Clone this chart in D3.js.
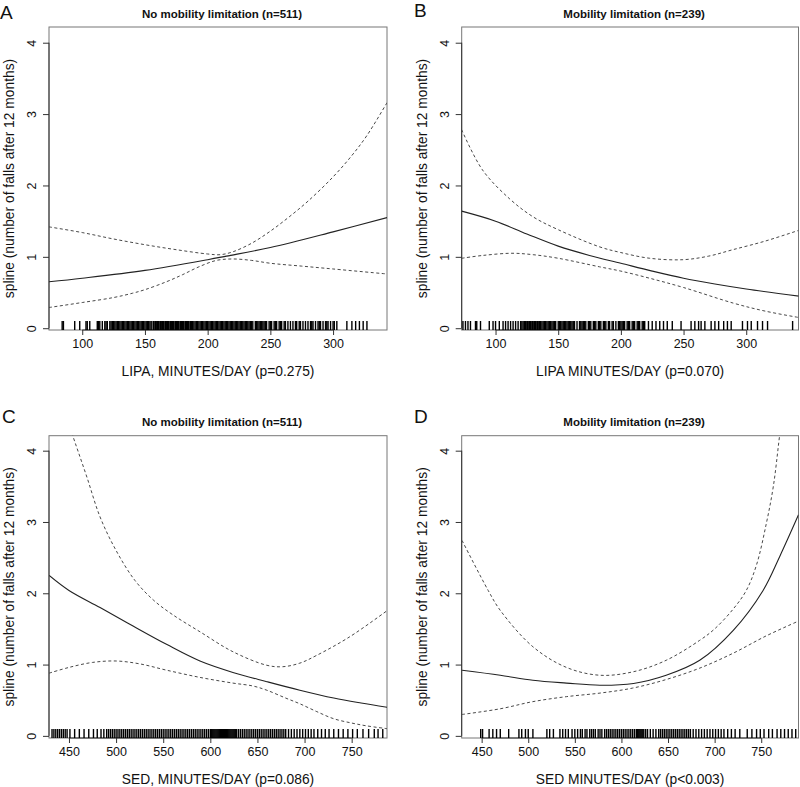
<!DOCTYPE html>
<html><head><meta charset="utf-8">
<script src="https://cdn.jsdelivr.net/npm/d3@7"></script>
<style>body{margin:0;background:#fff} text{font-family:"Liberation Sans",Arial,Helvetica,sans-serif;fill:#111}</style>
</head><body><svg id="c" width="800" height="787"></svg>
<script>
// ---------- data ----------
const yTicks = [0, 1, 2, 3, 4];
const lipaTicks = [100, 150, 200, 250, 300];
const sedTicks = [450, 500, 550, 600, 650, 700, 750];

// Panel A: LIPA, no mobility limitation
const aFitX = [73.5, 100, 150, 200, 215, 250, 300, 343];
const aFitY = [0.65, 0.70, 0.81, 0.96, 1.01, 1.13, 1.35, 1.55];
const aUpX = [73.5, 100, 125, 150, 175, 200, 210, 220, 235, 250, 265, 280, 300, 315, 327, 343];
const aUpY = [1.42, 1.34, 1.25, 1.17, 1.10, 1.04, 1.03, 1.07, 1.19, 1.36, 1.56, 1.78, 2.12, 2.42, 2.70, 3.16];
const aLoX = [73.5, 100, 125, 140, 150, 167, 180, 193, 207, 220, 235, 250, 275, 300, 343];
const aLoY = [0.29, 0.36, 0.43, 0.49, 0.54, 0.65, 0.75, 0.86, 0.95, 0.97, 0.95, 0.91, 0.87, 0.83, 0.76];
const rugA = [84, 85, 94, 98, 103, 104, 106, 112, 113, 114, 116, 118, 119, 120, 122, 123, 124, 125, 126, 127, 128, 129, 130, 131, 132, 133, 134, 135, 136, 137, 138, 139, 140, 141, 142, 143, 144, 145, 146, 147, 148, 149, 150, 151, 152, 153, 154, 155, 156.5, 157, 158, 158.5, 159, 160, 160.5, 161, 162, 162.5, 163, 164, 164.5, 165, 166, 166.5, 167, 168, 168.5, 169, 170, 170.5, 171, 172, 172.5, 173, 174, 174.5, 175, 176, 176.5, 177, 178, 178.5, 179, 180, 180.5, 181, 182, 182.5, 183, 184, 184.5, 185, 186, 186.5, 187, 188, 189, 190, 191, 192, 193, 194, 195, 196, 197, 198, 199, 200, 201, 202, 203, 204, 205, 206, 207, 208, 209, 210, 211, 212, 213, 214, 215, 216, 217, 218, 219, 220, 221, 222, 223, 224, 225, 226, 227, 228, 229, 230, 231, 232, 233, 234, 235, 236, 238, 239, 240, 241, 242, 243, 244, 245, 246, 247, 249, 250, 251, 253, 254, 255, 257, 258, 259, 261, 262, 264, 266, 268, 270, 271, 273, 274, 276, 278, 280, 282, 283, 284, 286, 288, 289, 290, 292, 294, 295, 296, 298, 300, 301, 303, 311, 315, 318, 321, 324, 327];

// Panel B: LIPA, mobility limitation
const bFitX = [73, 100, 125, 150, 175, 200, 225, 250, 275, 300, 342];
const bFitY = [1.64, 1.50, 1.32, 1.15, 1.02, 0.91, 0.80, 0.70, 0.62, 0.55, 0.45];
const bUpX = [73, 89.5, 111.4, 130, 150, 183, 200, 223, 249.5, 270, 289.3, 315, 341.7];
const bUpY = [2.78, 2.22, 1.81, 1.56, 1.38, 1.14, 1.06, 0.98, 0.96, 1.01, 1.10, 1.22, 1.37];
const bLoX = [73, 90, 113, 130, 150, 183, 200, 223, 250, 290, 315, 342];
const bLoY = [0.98, 1.02, 1.05, 1.03, 0.98, 0.86, 0.80, 0.70, 0.57, 0.35, 0.24, 0.15];
const rugB = [74, 76, 78, 80, 84, 85, 88, 95, 98, 100, 103, 106, 108, 110, 112, 114, 116, 118, 120, 121, 122, 123, 123.5, 124, 125, 125.5, 126, 127, 127.5, 128, 129, 129.5, 130, 131, 131.5, 132, 133, 133.5, 134, 135, 135.5, 136, 137, 138, 139, 140, 141, 142, 143, 144, 145, 146, 147, 148, 150, 151, 152, 153, 154, 155, 156, 157, 158, 159, 160, 161, 162, 163, 165, 167, 168, 169, 170, 171, 172, 174, 175, 176, 178, 179, 180, 182, 183, 184, 186, 187, 188, 190, 191, 193, 194, 196, 198, 199, 200, 201, 202, 203, 205, 206, 207, 209, 210, 211, 213, 214, 215, 217, 218, 219, 222, 225, 228, 231, 234, 237, 241, 248, 256, 259, 262, 264, 267, 272, 275, 278, 282, 285, 288, 297, 301, 304, 309, 313, 317, 337];

// Panel C: SED, no mobility limitation
const cFitX = [429, 450, 483, 518, 554, 589, 624, 660, 695, 731, 760, 788];
const cFitY = [2.25, 2.04, 1.80, 1.54, 1.28, 1.05, 0.89, 0.76, 0.64, 0.53, 0.46, 0.40];
const cUpX = [429, 454, 469, 483, 500, 520, 540, 560, 589, 624, 660, 677, 695, 713, 748, 788];
const cUpY = [5.2, 4.21, 3.63, 3.07, 2.60, 2.18, 1.90, 1.70, 1.46, 1.18, 0.99, 0.97, 1.02, 1.13, 1.39, 1.76];
const cLoX = [429, 450, 475, 500, 525, 554, 589, 624, 645, 660, 680, 695, 713, 731, 750, 766, 788];
const cLoY = [0.88, 0.96, 1.03, 1.05, 1.01, 0.92, 0.82, 0.74, 0.70, 0.64, 0.53, 0.45, 0.34, 0.24, 0.18, 0.14, 0.10];
const rugC = [432, 434, 436, 438, 440, 442, 444, 446, 448, 451, 456, 461, 466, 471, 476, 480, 484, 487, 490, 492, 494, 496, 498, 500, 502, 504, 506, 508, 510, 512, 514, 516, 518, 520, 522, 524, 526, 528, 530, 532, 534, 536, 538, 540, 542, 544, 546, 548, 550, 552, 554, 556, 558, 560, 562, 564, 566, 568, 570, 572, 574, 576, 578, 580, 582, 584, 586, 588, 590, 592, 594, 596, 598, 600, 601, 602, 603, 604, 605, 606, 607, 608, 609, 610, 611, 612, 613, 614, 615, 616, 617, 618, 619, 620, 621, 622, 623, 624, 625, 626, 627, 628, 630, 632, 634, 636, 638, 640, 642, 644, 646, 648, 650, 652, 654, 656, 658, 660, 662, 664, 666, 668, 670, 672, 674, 676, 678, 680, 683, 686, 689, 692, 695, 698, 701, 704, 707, 710, 714, 718, 722, 726, 731, 736, 741, 746, 751, 756, 762, 768, 774, 778, 783];

// Panel D: SED, mobility limitation
const dFitX = [429, 470, 505, 541, 577, 613, 648, 684, 720, 752, 770, 790];
const dFitY = [0.92, 0.85, 0.78, 0.74, 0.71, 0.735, 0.85, 1.06, 1.48, 2.04, 2.52, 3.10];
const dUpX = [429, 457, 470, 505, 541, 577, 613, 648, 684, 700, 720, 734, 745, 755.5, 763, 769.7, 780];
const dUpY = [2.74, 2.04, 1.76, 1.25, 0.96, 0.85, 0.90, 1.06, 1.34, 1.50, 1.78, 2.04, 2.40, 2.98, 3.50, 4.21, 5.3];
const dLoX = [429, 470, 505, 541, 577, 612, 648, 684, 720, 755, 790];
const dLoY = [0.30, 0.38, 0.48, 0.55, 0.60, 0.67, 0.79, 0.95, 1.16, 1.40, 1.61];
const rugD = [449, 451, 458, 462, 466, 470, 479, 490, 493, 497, 500, 505, 520, 523, 527, 534, 537, 540, 543, 547, 550, 553, 556, 558, 561, 563, 566, 568, 570, 572, 575, 577, 579, 582, 584, 586, 588, 590, 592, 594, 596, 598, 600, 602, 604, 606, 608, 610, 612, 614, 616, 617, 618, 619, 620, 621, 622, 623, 624, 626, 628, 631, 634, 637, 640, 642, 644, 646, 648, 650, 652, 654, 656, 658, 660, 662, 664, 666, 668, 670, 672, 674, 677, 680, 683, 686, 689, 692, 695, 698, 701, 704, 707, 710, 714, 718, 722, 727, 735, 740, 745, 749, 753, 758, 762, 767, 771, 775, 779, 783, 787];

const yLabel = "spline (number of falls after 12 months)";

// ---------- layout ----------
const panels = [
  {id:"A", letter:"A", letterX:0, letterY:18.5, title:"No mobility limitation (n=511)", xlabel:"LIPA, MINUTES/DAY (p=0.275)",
   ticks:lipaTicks, xdom:[73.5,343], ydom:[-0.025,4.22], l:49, r:387, t:27, b:330,
   fit:[aFitX,aFitY], up:[aUpX,aUpY], lo:[aLoX,aLoY], rug:rugA},
  {id:"B", letter:"B", letterX:414, letterY:17, title:"Mobility limitation (n=239)", xlabel:"LIPA MINUTES/DAY (p=0.070)",
   ticks:lipaTicks, xdom:[73,341.7], ydom:[-0.025,4.22], l:461.7, r:798.5, t:27, b:330,
   fit:[bFitX,bFitY], up:[bUpX,bUpY], lo:[bLoX,bLoY], rug:rugB},
  {id:"C", letter:"C", letterX:2, letterY:423, title:"No mobility limitation (n=511)", xlabel:"SED, MINUTES/DAY (p=0.086)",
   ticks:sedTicks, xdom:[428.8,787.5], ydom:[-0.03,4.21], l:49, r:387, t:435.7, b:738,
   fit:[cFitX,cFitY], up:[cUpX,cUpY], lo:[cLoX,cLoY], rug:rugC},
  {id:"D", letter:"D", letterX:414, letterY:423, title:"Mobility limitation (n=239)", xlabel:"SED MINUTES/DAY (p<0.003)",
   ticks:sedTicks, xdom:[428.6,790], ydom:[-0.03,4.21], l:461.7, r:798.5, t:435.7, b:738,
   fit:[dFitX,dFitY], up:[dUpX,dUpY], lo:[dLoX,dLoY], rug:rugD}
];

const svg = d3.select("#c");
const defs = svg.append("defs");

panels.forEach(p => {
  const x = d3.scaleLinear().domain(p.xdom).range([p.l, p.r]);
  const y = d3.scaleLinear().domain(p.ydom).range([p.b, p.t]);
  const g = svg.append("g");

  defs.append("clipPath").attr("id", "clip" + p.id)
    .append("rect").attr("x", p.l).attr("y", p.t).attr("width", p.r - p.l).attr("height", p.b - p.t);

  // box
  g.append("rect").attr("x", p.l).attr("y", p.t).attr("width", p.r - p.l).attr("height", p.b - p.t)
    .attr("fill", "none").attr("stroke", "#777").attr("stroke-width", 1);

  // x axis
  const xa = g.append("g").attr("transform", `translate(0,${p.b})`)
    .call(d3.axisBottom(x).tickValues(p.ticks).tickFormat(d3.format("d")).tickSize(5).tickSizeOuter(0).tickPadding(4));
  xa.select(".domain").attr("d", `M${x(p.ticks[0])},0H${x(p.ticks[p.ticks.length-1])}`).attr("stroke", "#333");
  xa.selectAll(".tick line").attr("stroke", "#333");
  xa.selectAll(".tick text").attr("font-size", "12.5px").attr("fill", "#111")
    .attr("font-family", "Liberation Sans, Arial, sans-serif");

  // y axis
  const ya = g.append("g").attr("transform", `translate(${p.l},0)`)
    .call(d3.axisLeft(y).tickValues(yTicks).tickFormat(d3.format("d")).tickSize(6).tickSizeOuter(0));
  ya.select(".domain").attr("d", `M0,${y(0)}V${y(4)}`).attr("stroke", "#333");
  ya.selectAll(".tick line").attr("stroke", "#333");
  ya.selectAll(".tick text")
    .attr("font-size", "12.5px").attr("fill", "#111").attr("font-family", "Liberation Sans, Arial, sans-serif")
    .attr("text-anchor", "middle").attr("dy", null).attr("x", null)
    .attr("transform", "translate(-13,0) rotate(-90)");

  // curves
  const line = d3.line().x(d => x(d[0])).y(d => y(d[1])).curve(d3.curveCatmullRom.alpha(0.5));
  const cg = g.append("g").attr("clip-path", `url(#clip${p.id})`);
  const pts = arr => arr[0].map((v, i) => [v, arr[1][i]]);
  cg.append("path").attr("d", line(pts(p.up))).attr("fill", "none").attr("stroke", "#333")
    .attr("stroke-width", 0.9).attr("stroke-dasharray", "3,2.5");
  cg.append("path").attr("d", line(pts(p.lo))).attr("fill", "none").attr("stroke", "#333")
    .attr("stroke-width", 0.9).attr("stroke-dasharray", "3,2.5");
  cg.append("path").attr("d", line(pts(p.fit))).attr("fill", "none").attr("stroke", "#222")
    .attr("stroke-width", 1.1);

  // rug
  g.append("g").selectAll("line").data(p.rug).join("line")
    .attr("x1", d => x(d)).attr("x2", d => x(d))
    .attr("y1", p.b).attr("y2", p.b - 9)
    .attr("stroke", "#000").attr("stroke-width", 1.4);

  // texts
  const cx = (p.l + p.r) / 2;
  g.append("text").attr("x", cx + 4).attr("y", p.t - 9.5).attr("text-anchor", "middle")
    .attr("font-size", "11.5px").attr("font-weight", "bold").text(p.title);
  g.append("text").attr("x", cx).attr("y", p.b + 45.5).attr("text-anchor", "middle")
    .attr("font-size", "13.8px").text(p.xlabel);
  g.append("text").attr("transform", `translate(${p.l - 35},${(p.t + p.b) / 2}) rotate(-90)`)
    .attr("text-anchor", "middle").attr("font-size", "13.8px").text(yLabel);
  g.append("text").attr("x", p.letterX).attr("y", p.letterY).attr("font-size", "19px").text(p.letter);
});
</script></body></html>
